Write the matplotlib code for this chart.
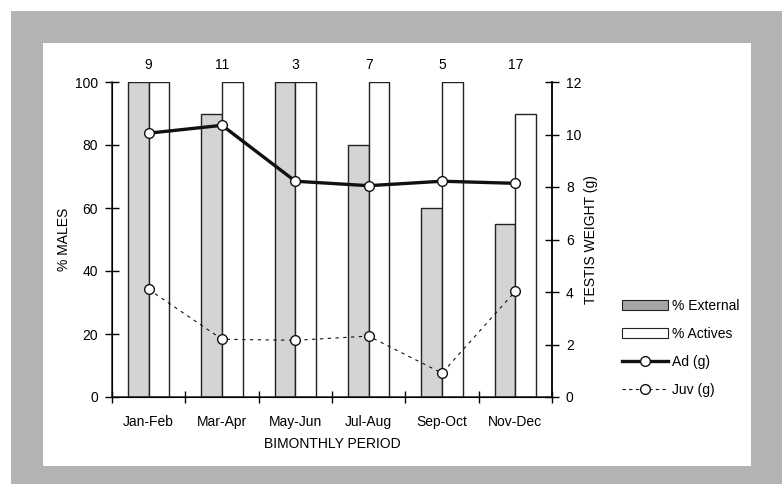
import matplotlib.pyplot as plt
import matplotlib.patches as mpatches
from matplotlib.lines import Line2D
import numpy as np

plt.rcParams['font.family'] = ['Liberation Sans', 'DejaVu Sans']
plt.rcParams['font.size'] = 10

periods = ['Jan-Feb', 'Mar-Apr', 'May-Jun', 'Jul-Aug', 'Sep-Oct', 'Nov-Dec']
n_males = [9, 11, 3, 7, 5, 17]
pct_external = [100, 90, 100, 80, 60, 55]
pct_actives = [100, 100, 100, 100, 100, 90]
ad_weight = [10.05, 10.35, 8.22, 8.05, 8.22, 8.14]
juv_weight = [4.1, 2.2, 2.16, 2.32, 0.91, 4.03]

W, H = 782, 484
fig = plt.figure(figsize=(7.82, 4.84), dpi=100)

# gray frame + white panel
fig.patches.append(mpatches.Rectangle((11 / W, 0), 1, 1 - 11 / H, transform=fig.transFigure,
                                      facecolor='#b3b3b3', edgecolor='none', zorder=-10))
fig.patches.append(mpatches.Rectangle((43 / W, 1 - 466 / H), (751 - 43) / W, (466 - 43) / H,
                                      transform=fig.transFigure, facecolor='white',
                                      edgecolor='none', zorder=-9))

ax = fig.add_axes([112 / W, 1 - 397 / H, (552 - 112) / W, (397 - 82) / H])
ax.patch.set_alpha(0)
x = np.arange(len(periods))
w = 0.283

ax.bar(x - w / 2, pct_external, w, color='#d3d4d6', edgecolor='#222222', linewidth=1.0)
ax.bar(x + w / 2, pct_actives, w, color='white', edgecolor='#222222', linewidth=1.0)

ax.set_xlim(-0.5, 5.5)
ax.set_ylim(0, 100)
ax.set_yticks([0, 20, 40, 60, 80, 100])
ax.set_xticks(np.arange(7) - 0.5)
ax.set_xticklabels([])
ax.set_xticks(x, minor=True)
ax.set_xticklabels(periods, minor=True)
ax.tick_params(axis='x', which='minor', length=0, pad=13)
ax.tick_params(axis='x', which='major', direction='inout', length=8, width=1)
ax.tick_params(axis='y', direction='inout', length=10, width=1, pad=5)
ax.spines['top'].set_visible(False)
for s in ['left', 'right', 'bottom']:
    ax.spines[s].set_linewidth(1.1)
    ax.spines[s].set_color('#222222')
ax.set_ylabel('% MALES', labelpad=3)
ax.set_xlabel('BIMONTHLY PERIOD', labelpad=6)

for xi, n in zip(x, n_males):
    ax.text(xi, 105.5, str(n), ha='center', va='center', clip_on=False)

ax2 = ax.twinx()
ax2.set_ylim(0, 12)
ax2.set_yticks(range(0, 13, 2))
ax2.tick_params(axis='y', direction='inout', length=10, width=1, pad=5)
ax2.spines['top'].set_visible(False)
ax2.spines['right'].set_linewidth(1.1)
ax2.set_ylabel('TESTIS WEIGHT (g)', labelpad=2)

ax2.plot(x, ad_weight, color='#111111', linewidth=2.4, marker='o', markersize=7,
         markerfacecolor='white', markeredgecolor='#111111', markeredgewidth=1.0, zorder=5)
ax2.plot(x, juv_weight, color='#111111', linewidth=0.8, linestyle=(0, (3, 4)), marker='o',
         markersize=7, markerfacecolor='white', markeredgecolor='#111111',
         markeredgewidth=1.0, zorder=5)

handles = [
    mpatches.Patch(facecolor='#a5a5a5', edgecolor='#222222', linewidth=0.8),
    mpatches.Patch(facecolor='white', edgecolor='#222222', linewidth=0.8),
    Line2D([], [], color='#111111', linewidth=2.4, marker='o', markersize=7,
           markerfacecolor='white', markeredgecolor='#111111'),
    Line2D([], [], color='#111111', linewidth=0.8, linestyle=(0, (3, 3)), marker='o',
           markersize=7, markerfacecolor='white', markeredgecolor='#111111'),
]
labels = ['% External', '% Actives', 'Ad (g)', 'Juv (g)']
fig.legend(handles, labels, loc='upper left', bbox_to_anchor=(622 / W, 1 - 299 / H),
           frameon=False, handlelength=3.3, handleheight=0.7, handletextpad=0.3,
           labelspacing=1.0, borderpad=0, borderaxespad=0)

fig.savefig('out.png', dpi=100)
